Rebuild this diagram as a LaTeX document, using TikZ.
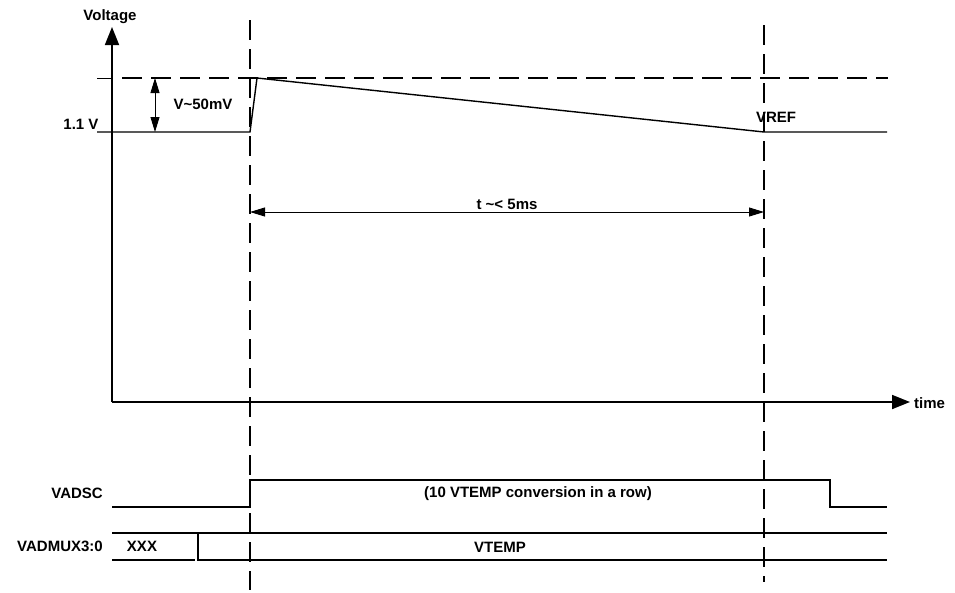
\documentclass[tikz,border=0pt]{standalone}
\usepackage{fontspec}
\setmainfont{Liberation Sans}
\usetikzlibrary{positioning,arrows.meta}

\begin{document}
\begin{tikzpicture}[
  x=1pt, y=-1pt,
  tag/.style={font=\fontsize{15}{17}\selectfont\bfseries, inner sep=1pt},
  axis/.style={line width=1.8pt, -{Triangle[length=18pt,width=14pt]}},
  wave/.style={line width=1.4pt},
  guide/.style={line width=1.6pt, dash pattern=on 20pt off 9pt},
  span/.style={line width=0.9pt, {Triangle[length=15pt,width=9pt]}-{Triangle[length=15pt,width=9pt]}}
]
  \useasboundingbox (0,0) rectangle (955,592);

  % axes
  \coordinate (origin) at (112,402);
  \coordinate (vtop) at (112,27);
  \coordinate (tend) at (910,402);
  \node[tag] (vaxis) at (110,17) {Voltage};
  \node[tag, anchor=west] (taxis) at (913,403) {time};
  \draw[axis] (origin) -- (vtop);
  \draw[axis] (origin) -- (tend);

  % guide lines
  \coordinate (starttop) at (250,20);
  \coordinate (startbot) at (250,590);
  \coordinate (endtop) at (764,25);
  \coordinate (endbot) at (764,582);
  \draw[guide] (starttop) -- (startbot);
  \draw[guide] (endtop) -- (endbot);
  \coordinate (peaktick) at (97,78);
  \coordinate (peakaxis) at (112,78);
  \coordinate (peakdash) at (122,78);
  \coordinate (peakend) at (888,78);
  \draw[wave, line width=0.9pt] (peaktick) -- (peakaxis);
  \draw[guide] (peakdash) -- (peakend);

  % voltage curve
  \coordinate (reftick) at (97,132);
  \coordinate (rise) at (250,132);
  \coordinate (peak) at (257,78);
  \coordinate (vref) at (764,132);
  \coordinate (refend) at (887,132);
  \draw[wave] (reftick) -- (rise) -- (peak) -- (vref) -- (refend);
  \node[tag] (reflabel) at (81,124) {1.1 V};
  \node[tag] (vreflabel) at (776,117) {VREF};

  % dimensions
  \coordinate (dvtop) at (155,78);
  \coordinate (dvbot) at (155,132);
  \draw[span] (dvtop) -- (dvbot);
  \node[tag] (dvlabel) at (203,104) {V\textasciitilde 50mV};
  \coordinate (dtleft) at (250,212);
  \coordinate (dtright) at (764,212);
  \draw[span] (dtleft) -- (dtright);
  \node[tag] (dtlabel) at (507,204) {t \textasciitilde < 5ms};

  % VADSC
  \node[tag, anchor=east] (vadsc) at (104,493) {VADSC};
  \draw[wave] (112,507) coordinate (sclow) -- (250,507) -- (250,480) -- (830,480) -- (830,507) -- (887,507) coordinate (scend);
  \node[tag] (sctext) at (538,494) {(10 VTEMP conversion in a row)};

  % VADMUX3:0
  \node[tag, anchor=east] (vadmux) at (104,546) {VADMUX3:0};
  \draw[wave] (112,533) coordinate (muxtop) -- (887,533);
  \draw[wave] (112,560) coordinate (muxbot) -- (195,560);
  \draw[wave] (198,533) -- (198,560) -- (887,560);
  \node[tag] (muxold) at (142,546) {XXX};
  \node[tag] (muxnew) at (500,547) {VTEMP};
\end{tikzpicture}
\end{document}
